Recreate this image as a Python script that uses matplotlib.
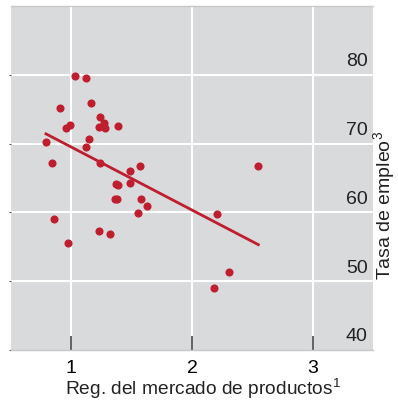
import matplotlib.pyplot as plt
import numpy as np

plt.rcParams['font.family'] = ['Liberation Sans', 'DejaVu Sans']
plt.rcParams['mathtext.default'] = 'regular'

# regulación del mercado de productos vs. tasa de empleo
reg_productos = [1.03, 1.12, 0.91, 1.16, 0.96, 0.99, 1.24, 1.27, 1.23, 1.28,
                 1.39, 1.15, 0.79, 1.12, 0.84, 1.24, 1.57, 1.49, 1.37, 1.39,
                 1.49, 1.36, 1.38, 1.58, 1.63, 1.55, 0.86, 1.23, 1.32, 0.97,
                 2.21, 2.31, 2.18, 2.55]
tasa_empleo = [79.8, 79.5, 75.2, 75.9, 72.3, 72.7, 73.9, 73.0, 72.4, 72.2,
               72.6, 70.7, 70.2, 69.5, 67.2, 67.2, 66.7, 66.0, 64.2, 64.0,
               64.3, 61.9, 61.9, 61.9, 61.0, 59.9, 59.0, 57.3, 56.9, 55.5,
               59.8, 51.4, 49.0, 66.7]

x_ticks = [1, 2, 3]
y_ticks = [40, 50, 60, 70, 80]

rojo = '#be1e2d'
fondo = '#d9dadc'

fig = plt.figure(figsize=(3.98, 4.03), dpi=100)
ax = fig.add_axes([0.0276, 0.1315, 0.9094, 0.8535])
ax.set_facecolor(fondo)
ax.set_xlim(0.5, 3.5)
ax.set_ylim(40, 90)

for v in x_ticks:
    ax.axvline(v, color='white', lw=1.5, zorder=1)
for v in y_ticks[1:]:
    ax.axhline(v, color='white', lw=1.5, zorder=1)

ax.scatter(reg_productos, tasa_empleo, s=34, color=rojo, zorder=3, linewidths=0)

# recta de regresión
pendiente, ordenada = np.polyfit(reg_productos, tasa_empleo, 1)
xs = np.array([min(reg_productos), max(reg_productos)])
ax.plot(xs, pendiente * xs + ordenada, color=rojo, lw=2, zorder=2)

ax.set_xticks(x_ticks)
ax.set_xticklabels([str(v) for v in x_ticks], fontsize=14)
ax.tick_params(axis='x', direction='in', length=10, width=1.3, color='#555555', pad=7)
ax.set_yticks(y_ticks)
ax.set_yticklabels([])
ax.tick_params(axis='y', length=1.5, width=0.8, color='#555555')

for v in y_ticks:
    ax.text(3.455, v + 1.9, str(v), ha='right', va='center', fontsize=14, color='#222222')

for s in ['left', 'right']:
    ax.spines[s].set_visible(False)
for s in ['top', 'bottom']:
    ax.spines[s].set_color('#c8c8c8')
    ax.spines[s].set_linewidth(1)

fig.text(0.51, 0.035, 'Reg. del mercado de productos$^1$', ha='center', va='center',
         fontsize=13.8, color='#222222')
fig.text(0.965, 0.49, 'Tasa de empleo$^3$', rotation=90, ha='center', va='center',
         fontsize=14, color='#222222')

fig.savefig('out.png', dpi=100)
